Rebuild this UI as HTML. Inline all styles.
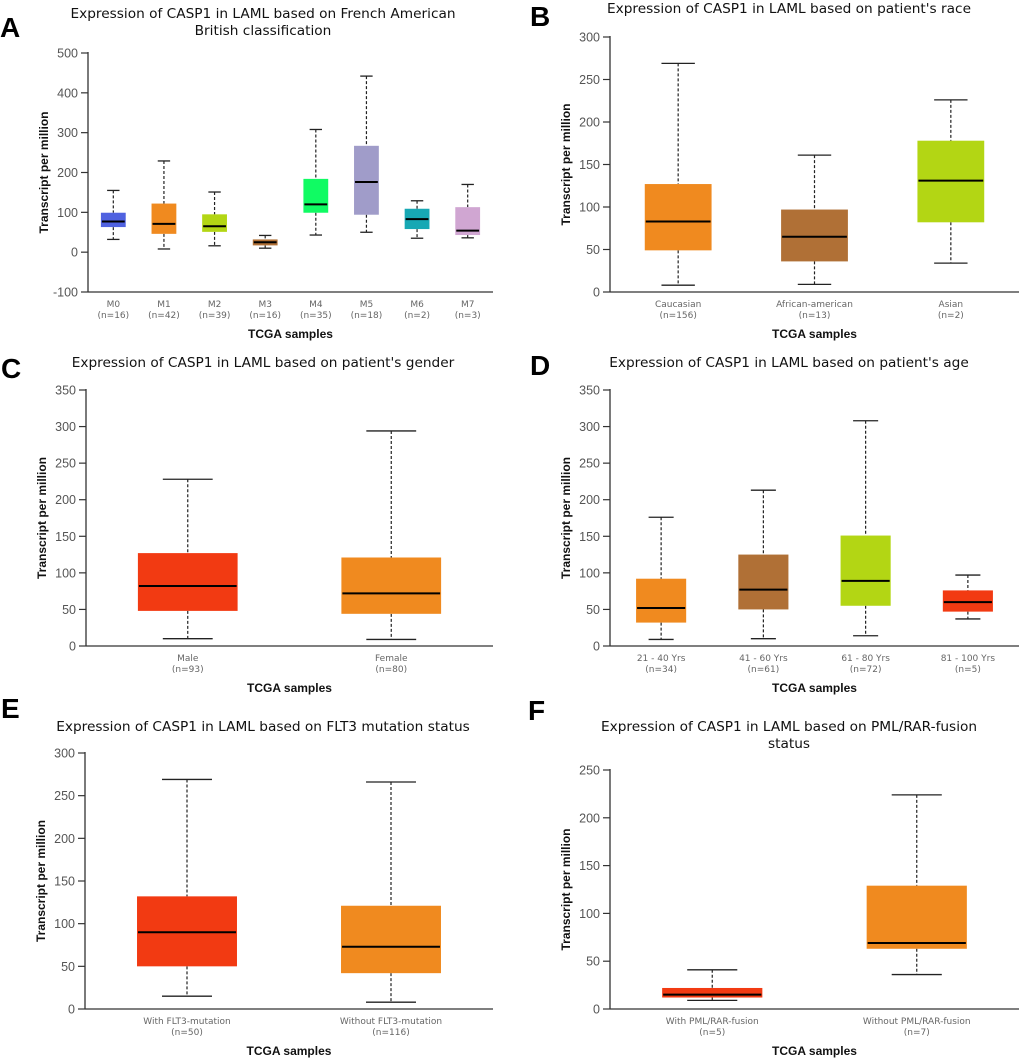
<!DOCTYPE html>
<html><head><meta charset="utf-8">
<style>
html,body{margin:0;padding:0;background:#fff;}
svg{display:block;}
.title{font-family:"DejaVu Sans",sans-serif;font-size:13.7px;fill:#111;}
.letter{font-family:"Liberation Sans",sans-serif;font-weight:bold;font-size:28px;fill:#000;}
.tick{font-family:"Liberation Sans",sans-serif;font-size:12.5px;fill:#555;}
.cat{font-family:"DejaVu Sans",sans-serif;font-size:9px;fill:#666;}
.ylab,.xlab{font-family:"Liberation Sans",sans-serif;font-weight:bold;font-size:12px;fill:#111;}
</style></head>
<body>
<svg id="fig" width="1020" height="1058" viewBox="0 0 1020 1058" xmlns="http://www.w3.org/2000/svg"></svg>
<script>
// ---- Panel A data ----
const aCats = ["M0","M1","M2","M3","M4","M5","M6","M7"];
const aN = ["(n=16)","(n=42)","(n=39)","(n=16)","(n=35)","(n=18)","(n=2)","(n=3)"];
const aLo = [32,8,16,10,43,50,35,36];
const aQ1 = [63,46,51,17,99,94,58,43];
const aMed = [77,71,65,25,120,176,83,54];
const aQ3 = [99,122,95,32,184,267,109,113];
const aHi = [155,229,151,42,308,442,129,170];
const aColors = ["#5062e0","#f08a1f","#b3d614","#b07036","#10fb63","#a09cc9","#17a8b4","#d0a6d2"];
const aTicks = [-100,0,100,200,300,400,500];
// ---- Panel B data ----
const bCats = ["Caucasian","African-american","Asian"];
const bN = ["(n=156)","(n=13)","(n=2)"];
const bLo = [8,9,34];
const bQ1 = [49,36,82];
const bMed = [83,65,131];
const bQ3 = [127,97,178];
const bHi = [269,161,226];
const bColors = ["#f08a1f","#b07036","#b3d614"];
const bTicks = [0,50,100,150,200,250,300];
// ---- Panel C data ----
const cCats = ["Male","Female"];
const cN = ["(n=93)","(n=80)"];
const cLo = [10,9];
const cQ1 = [48,44];
const cMed = [82,72];
const cQ3 = [127,121];
const cHi = [228,294];
const cColors = ["#f23a12","#f08a1f"];
const cTicks = [0,50,100,150,200,250,300,350];
// ---- Panel D data ----
const dCats = ["21 - 40 Yrs","41 - 60 Yrs","61 - 80 Yrs","81 - 100 Yrs"];
const dN = ["(n=34)","(n=61)","(n=72)","(n=5)"];
const dLo = [9,10,14,37];
const dQ1 = [32,50,55,47];
const dMed = [52,77,89,60];
const dQ3 = [92,125,151,76];
const dHi = [176,213,308,97];
const dColors = ["#f08a1f","#b07036","#b3d614","#f23a12"];
const dTicks = [0,50,100,150,200,250,300,350];
// ---- Panel E data ----
const eCats = ["With FLT3-mutation","Without FLT3-mutation"];
const eN = ["(n=50)","(n=116)"];
const eLo = [15,8];
const eQ1 = [50,42];
const eMed = [90,73];
const eQ3 = [132,121];
const eHi = [269,266];
const eColors = ["#f23a12","#f08a1f"];
const eTicks = [0,50,100,150,200,250,300];
// ---- Panel F data ----
const fCats = ["With PML/RAR-fusion","Without PML/RAR-fusion"];
const fN = ["(n=5)","(n=7)"];
const fLo = [9,36];
const fQ1 = [12,63];
const fMed = [15,69];
const fQ3 = [22,129];
const fHi = [41,224];
const fColors = ["#f23a12","#f08a1f"];
const fTicks = [0,50,100,150,200,250];

const NS="http://www.w3.org/2000/svg";
const fig=document.getElementById('fig');
function mk(tag,attrs,parent,text){
  const e=document.createElementNS(NS,tag);
  for(const k in attrs) e.setAttribute(k,attrs[k]);
  if(text!==undefined) e.textContent=text;
  (parent||fig).appendChild(e);
  return e;
}

function panel(p){
  const g=mk('g',{});
  
  
  const ymin=p.ticks[0], ymax=p.ticks[p.ticks.length-1];
  const y=v=>p.yb+(v-ymin)*(p.yt-p.yb)/(ymax-ymin);
  const band=(p.x1-p.x0)/p.cats.length;
  const xc=i=>p.x0+band*(i+0.5);
  const bw=band*0.49;
  const L=mk('text',{x:p.lx,y:p.ly,'class':'letter'},g,p.letter);
  
  
  const T=mk('text',{x:p.tx,'text-anchor':'middle','class':'title'},g);
  
  
  p.title.forEach((line,i)=>{mk('tspan',{x:p.tx,y:p.ty+i*17},T,line);});
  const ya=mk('line',{x1:p.x0,y1:p.yt-1,x2:p.x0,y2:p.yb,stroke:'#333','stroke-width':1.3},g);
  
  
  const xa=mk('line',{x1:p.x0,y1:p.yb,x2:p.x1,y2:p.yb,stroke:'#333','stroke-width':1.3},g);
  
  
  p.ticks.forEach(t=>{
    const yy=y(t);
    mk('line',{x1:p.x0-7,y1:yy,x2:p.x0,y2:yy,stroke:'#333','stroke-width':1.2},g);
    const tl=mk('text',{x:p.x0-10,y:yy+4.5,'text-anchor':'end','class':'tick'},g,String(t));
    
    
  });
  const yl=mk('text',{x:0,y:0,'text-anchor':'middle','class':'ylab',transform:`translate(${p.x0-40},${(p.yt+p.yb)/2}) rotate(-90)`},g,'Transcript per million');
  
  
  const xl=mk('text',{x:(p.x0+p.x1)/2,y:p.xly,'text-anchor':'middle','class':'xlab'},g,'TCGA samples');
  
  
  p.cats.forEach((c,i)=>{
    const cx=xc(i);
    const bg=mk('g',{},g);
    
    
    mk('line',{x1:cx,y1:y(p.hi[i]),x2:cx,y2:y(p.q3[i]),stroke:'#222','stroke-width':1.2,'stroke-dasharray':'3,2'},bg);
    mk('line',{x1:cx,y1:y(p.q1[i]),x2:cx,y2:y(p.lo[i]),stroke:'#222','stroke-width':1.2,'stroke-dasharray':'3,2'},bg);
    mk('line',{x1:cx-bw/4,y1:y(p.hi[i]),x2:cx+bw/4,y2:y(p.hi[i]),stroke:'#222','stroke-width':1.3},bg);
    mk('line',{x1:cx-bw/4,y1:y(p.lo[i]),x2:cx+bw/4,y2:y(p.lo[i]),stroke:'#222','stroke-width':1.3},bg);
    mk('rect',{x:cx-bw/2,y:y(p.q3[i]),width:bw,height:y(p.q1[i])-y(p.q3[i]),fill:p.colors[i]},bg);
    mk('line',{x1:cx-bw/2+1,y1:y(p.med[i]),x2:cx+bw/2-1,y2:y(p.med[i]),stroke:'#000','stroke-width':2},bg);
    const c1=mk('text',{x:cx,y:p.cly,'text-anchor':'middle','class':'cat'},g,c);
    
    
    const c2=mk('text',{x:cx,y:p.cly+11,'text-anchor':'middle','class':'cat'},g,p.n[i]);
    
    
  });
}

panel({id:'a',letter:'A',lx:0,ly:37,title:['Expression of CASP1 in LAML based on French American','British classification'],tx:263,ty:18,
  x0:88,x1:493,yt:53,yb:292,ticks:aTicks,cats:aCats,n:aN,lo:aLo,q1:aQ1,med:aMed,q3:aQ3,hi:aHi,colors:aColors,cly:307,xly:338});
panel({id:'b',letter:'B',lx:530,ly:26,title:["Expression of CASP1 in LAML based on patient's race"],tx:789,ty:13,
  x0:610,x1:1019,yt:37,yb:292,ticks:bTicks,cats:bCats,n:bN,lo:bLo,q1:bQ1,med:bMed,q3:bQ3,hi:bHi,colors:bColors,cly:307,xly:338});
panel({id:'c',letter:'C',lx:1,ly:378,title:["Expression of CASP1 in LAML based on patient's gender"],tx:263,ty:367,
  x0:86,x1:493,yt:390,yb:646,ticks:cTicks,cats:cCats,n:cN,lo:cLo,q1:cQ1,med:cMed,q3:cQ3,hi:cHi,colors:cColors,cly:661,xly:692});
panel({id:'d',letter:'D',lx:530,ly:375,title:["Expression of CASP1 in LAML based on patient's age"],tx:789,ty:367,
  x0:610,x1:1019,yt:390,yb:646,ticks:dTicks,cats:dCats,n:dN,lo:dLo,q1:dQ1,med:dMed,q3:dQ3,hi:dHi,colors:dColors,cly:661,xly:692});
panel({id:'e',letter:'E',lx:1,ly:718,title:['Expression of CASP1 in LAML based on FLT3 mutation status'],tx:263,ty:731,
  x0:85,x1:493,yt:753,yb:1009,ticks:eTicks,cats:eCats,n:eN,lo:eLo,q1:eQ1,med:eMed,q3:eQ3,hi:eHi,colors:eColors,cly:1024,xly:1055});
panel({id:'f',letter:'F',lx:528,ly:720,title:['Expression of CASP1 in LAML based on PML/RAR-fusion','status'],tx:789,ty:731,
  x0:610,x1:1019,yt:770,yb:1009,ticks:fTicks,cats:fCats,n:fN,lo:fLo,q1:fQ1,med:fMed,q3:fQ3,hi:fHi,colors:fColors,cly:1024,xly:1055});
</script>
</body></html>
